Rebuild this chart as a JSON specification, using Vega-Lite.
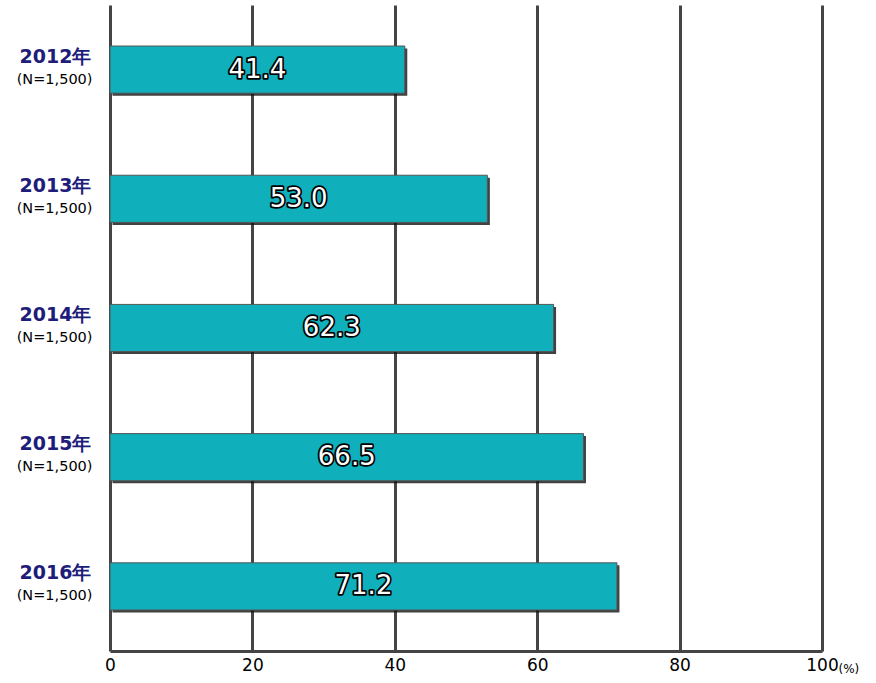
{
  "$schema": "https://vega.github.io/schema/vega-lite/v6.json",
  "width": 712,
  "height": 646,
  "autosize": {"type": "none"},
  "padding": {"left": 110, "top": 5, "right": 54, "bottom": 32},
  "background": "white",
  "config": {"view": {"stroke": null}, "font": "DejaVu Sans"},
  "data": {
    "values": [
      {"cat": "2012年|(N=1,500)", "value": 41.4, "label": "41.4"},
      {"cat": "2013年|(N=1,500)", "value": 53.0, "label": "53.0"},
      {"cat": "2014年|(N=1,500)", "value": 62.3, "label": "62.3"},
      {"cat": "2015年|(N=1,500)", "value": 66.5, "label": "66.5"},
      {"cat": "2016年|(N=1,500)", "value": 71.2, "label": "71.2"}
    ]
  },
  "layer": [
    {
      "mark": {"type": "bar", "color": "#111111", "opacity": 0.8, "xOffset": 2.5, "yOffset": 2.5},
      "encoding": {
        "y": {
          "field": "cat", "type": "nominal", "sort": null,
          "scale": {"paddingInner": 0.635, "paddingOuter": 0.3175},
          "axis": {
            "orient": "left", "title": null, "domain": false, "ticks": false, "grid": false,
            "labelExpr": "split(datum.value, '|')[0]",
            "labelFont": "DejaVu Sans", "labelFontWeight": "bold", "labelFontSize": 19,
            "labelColor": "#201c7a", "labelPadding": 19, "labelOffset": -13, "labelAlign": "right", "labelBaseline": "middle"
          }
        },
        "x": {
          "field": "value", "type": "quantitative",
          "scale": {"domain": [0, 100]},
          "axis": {
            "values": [0, 20, 40, 60, 80, 100], "title": "(%)",
            "titleX": 728, "titleY": 17, "titleAlign": "left", "titleAnchor": "start",
            "titleFontSize": 12, "titleFontWeight": "normal", "titleColor": "#000000", "titleBaseline": "middle",
            "grid": true, "gridColor": "#444444", "gridWidth": 3, "gridOpacity": 1,
            "domain": true, "domainColor": "#444444", "domainWidth": 3,
            "ticks": false, "labelPadding": 6, "labelFontSize": 17, "labelColor": "#000000",
            "labelFont": "DejaVu Sans", "labelFlush": false
          }
        }
      }
    },
    {
      "mark": {"type": "bar", "color": "#0fb0bc", "stroke": "#555555", "strokeWidth": 1},
      "encoding": {
        "y": {
          "field": "cat", "type": "nominal", "sort": null,
          "axis": {
            "orient": "left", "title": null, "domain": false, "ticks": false, "grid": false,
            "labelExpr": "split(datum.value, '|')[1]",
            "labelFont": "DejaVu Sans", "labelFontSize": 14.5, "labelColor": "#000000",
            "labelPadding": 18, "labelOffset": 10, "labelAlign": "right", "labelBaseline": "middle"
          }
        },
        "x": {"field": "value", "type": "quantitative"}
      }
    },
    {
      "transform": [{"calculate": "datum.value / 2", "as": "mid"}],
      "mark": {"type": "text", "fontSize": 26, "font": "DejaVu Sans", "stroke": "#000000", "strokeWidth": 3.5, "strokeJoin": "round", "fill": "#000000", "baseline": "middle", "align": "center"},
      "encoding": {
        "y": {"field": "cat", "type": "nominal", "sort": null, "axis": null},
        "x": {"field": "mid", "type": "quantitative"},
        "text": {"field": "label"}
      }
    },
    {
      "transform": [{"calculate": "datum.value / 2", "as": "mid"}],
      "mark": {"type": "text", "fontSize": 26, "font": "DejaVu Sans", "fill": "#ffffff", "baseline": "middle", "align": "center"},
      "encoding": {
        "y": {"field": "cat", "type": "nominal", "sort": null, "axis": null},
        "x": {"field": "mid", "type": "quantitative"},
        "text": {"field": "label"}
      }
    }
  ],
  "resolve": {"axis": {"y": "independent"}}
}
